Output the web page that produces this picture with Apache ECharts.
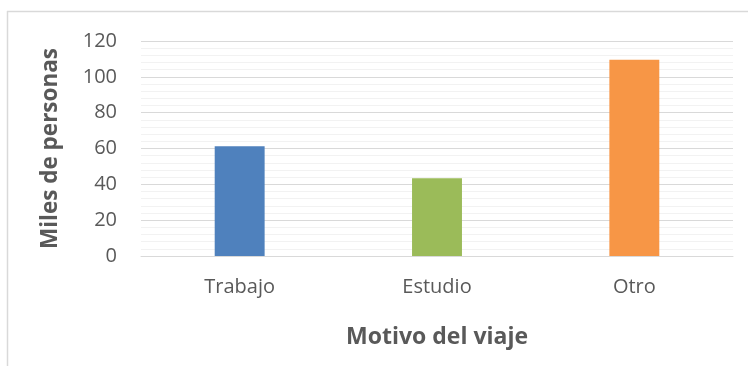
<!DOCTYPE html>
<html>
<head>
<meta charset="utf-8">
<script src="https://cdn.jsdelivr.net/npm/echarts@6/dist/echarts.min.js"></script>
<style>
  html, body { margin: 0; padding: 0; background: #fff; }
  #chart { width: 748px; height: 366px; }
</style>
</head>
<body>
<div id="chart"></div>
<script>
// Viajes según motivo (miles de personas)
const categories = ['Trabajo', 'Estudio', 'Otro'];
const values = [61.3, 43.4, 109.6];
const barColors = ['#4f81bd', '#9bbb59', '#f79646'];
const yTicks = { min: 0, max: 120, interval: 20 };

const textColor = '#595959';
const fontFamily = '"Open Sans", sans-serif';

const chart = echarts.init(document.getElementById('chart'), null, { renderer: 'canvas' });

chart.setOption({
  animation: false,
  backgroundColor: '#ffffff',
  grid: { left: 141, right: 15, top: 41, bottom: 110, containLabel: false },
  graphic: [
    { type: 'line', shape: { x1: 7, y1: 11.5, x2: 748, y2: 11.5 }, style: { stroke: '#d9d9d9', lineWidth: 1.5 } },
    { type: 'line', shape: { x1: 7.5, y1: 11, x2: 7.5, y2: 366 }, style: { stroke: '#d9d9d9', lineWidth: 1.5 } }
  ],
  xAxis: {
    type: 'category',
    data: categories,
    name: 'Motivo del viaje',
    nameLocation: 'middle',
    nameGap: 70,
    nameTextStyle: { color: textColor, fontSize: 23, fontWeight: 'bold', fontFamily },
    axisLine: { show: true, lineStyle: { color: '#d9d9d9', width: 1 } },
    axisTick: { show: false },
    axisLabel: { color: textColor, fontSize: 20, fontFamily, margin: 21 }
  },
  yAxis: {
    type: 'value',
    min: yTicks.min,
    max: yTicks.max,
    interval: yTicks.interval,
    name: 'Miles de personas',
    nameLocation: 'middle',
    nameGap: 79,
    nameTextStyle: { color: textColor, fontSize: 22.5, fontWeight: 'bold', fontFamily },
    axisLine: { show: false },
    axisTick: { show: false },
    axisLabel: { color: textColor, fontSize: 20, fontFamily, margin: 24 },
    splitLine: { lineStyle: { color: '#d9d9d9', width: 1 } },
    minorTick: { show: false, splitNumber: 5 },
    minorSplitLine: { show: true, lineStyle: { color: '#f2f2f2', width: 1 } }
  },
  series: [{
    type: 'bar',
    data: values.map((v, i) => ({ value: v, itemStyle: { color: barColors[i] } })),
    barWidth: '25.3%'
  }]
});
</script>
</body>
</html>
